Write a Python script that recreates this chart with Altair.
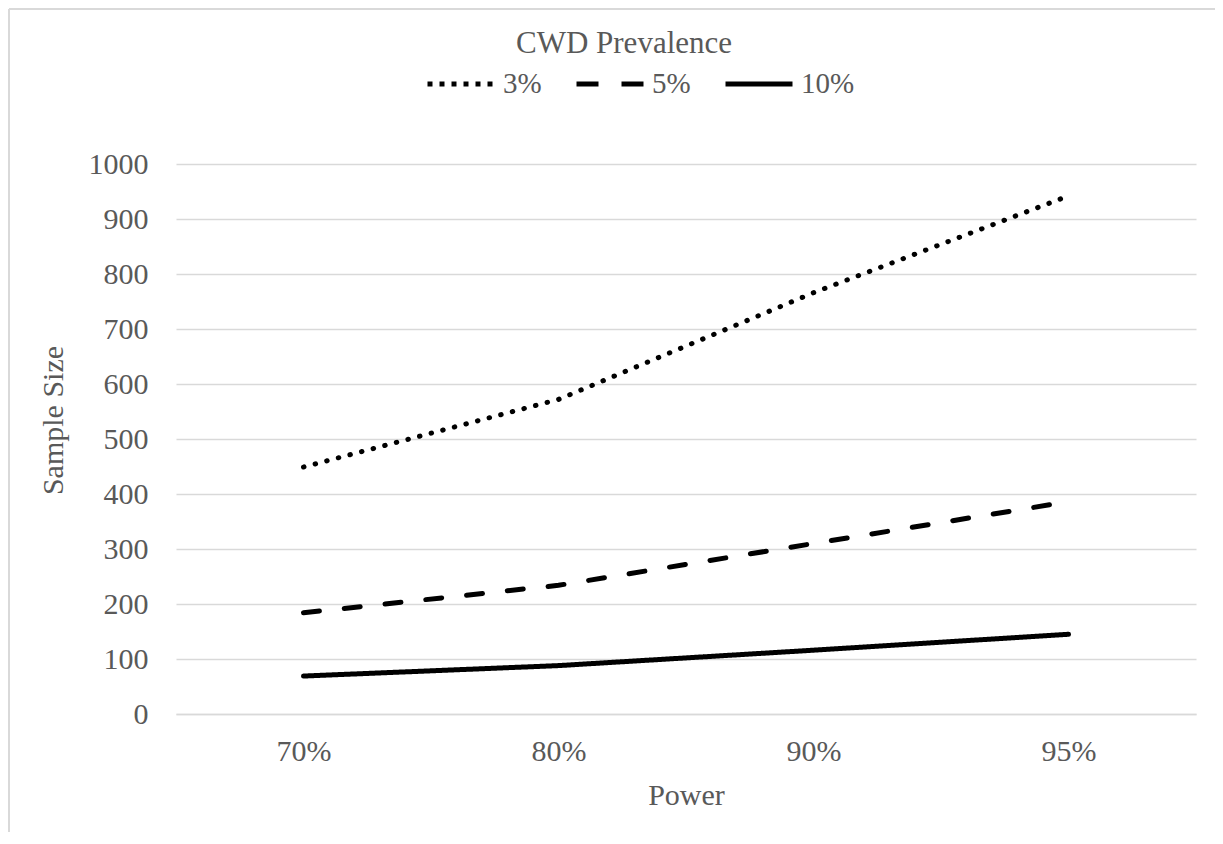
import altair as alt
import pandas as pd

power = ["70%", "80%", "90%", "95%"]
series = ["3%", "5%", "10%"]
prev_3 = [449, 572, 766, 942]
prev_5 = [184, 234, 310, 386]
prev_10 = [69, 88, 116, 145]
y_ticks = [0, 100, 200, 300, 400, 500, 600, 700, 800, 900, 1000]

rows = []
for s, vals in zip(series, [prev_3, prev_5, prev_10]):
    for p, v in zip(power, vals):
        rows.append({"Power": p, "Sample Size": v, "Prevalence": s, "Key": s})
df = pd.DataFrame(rows)
# one point per series: a single-vertex line draws nothing, it only feeds the legend
df_key = df[df["Power"] == power[0]]

FONT = "Liberation Serif"
GRAY = "#595959"
GRID = "#d9d9d9"
FS = 30

x_enc = alt.X("Power:N", sort=power,
              axis=alt.Axis(title="Power", labelAngle=0, ticks=False, domainColor=GRID,
                            domainWidth=1.5, labelPadding=22, titlePadding=14))
y_enc = alt.Y("Sample Size:Q", scale=alt.Scale(domain=[0, 1000], nice=False),
              axis=alt.Axis(title="Sample Size", values=y_ticks, format="d", ticks=False,
                            domain=False, gridColor=GRID, gridWidth=1.5,
                            labelPadding=28, titlePadding=20, titleY=256))

lines = alt.Chart(df).mark_line(color="black", strokeWidth=5, strokeCap="round").encode(
    x=x_enc, y=y_enc,
    strokeDash=alt.StrokeDash(
        "Prevalence:N", sort=series,
        scale=alt.Scale(domain=series, range=[[0.5, 11.5], [16, 25], [1, 0]]),
        legend=None),
)

key = alt.Chart(df_key).mark_line(color="black", strokeWidth=5, strokeCap="butt").encode(
    x=x_enc, y=y_enc,
    strokeDash=alt.StrokeDash(
        "Key:N", sort=series,
        scale=alt.Scale(domain=series, range=[[5, 7], [22, 23], [1, 0]]),
        legend=alt.Legend(title=None, orient="none", direction="horizontal",
                          legendX=249, legendY=-116, symbolType="stroke",
                          symbolSize=4489, symbolStrokeWidth=5, symbolStrokeColor="black",
                          labelFont=FONT, labelFontSize=29, labelColor=GRAY,
                          labelOffset=6, columnPadding=24)),
)

border = alt.Chart(df_key).mark_rule(color=GRID, strokeWidth=1.5).encode(
    x=alt.value(-167), x2=alt.value(1039), y=alt.value(-155), y2=alt.value(-155))
border_left = alt.Chart(df_key).mark_rule(color=GRID, strokeWidth=1.5).encode(
    x=alt.value(-167), y=alt.value(-155), y2=alt.value(680))

chart = alt.layer(border, border_left, lines, key).resolve_scale(
    strokeDash="independent"
).properties(
    width=1020, height=550,
    background="white",
    title=alt.TitleParams("CWD Prevalence", font=FONT, fontSize=31, color=GRAY,
                          fontWeight="normal", anchor="middle", dx=-62, offset=-52),
    autosize=alt.AutoSizeParams(type="none"),
    padding={"left": 168, "top": 156, "right": 19, "bottom": 118},
).configure_view(stroke=None).configure_axis(
    labelFont=FONT, labelFontSize=FS, labelColor=GRAY,
    titleFont=FONT, titleFontSize=FS, titleColor=GRAY, titleFontWeight="normal",
)

chart.save("out.html", embed_options={"renderer": "svg", "actions": False})
